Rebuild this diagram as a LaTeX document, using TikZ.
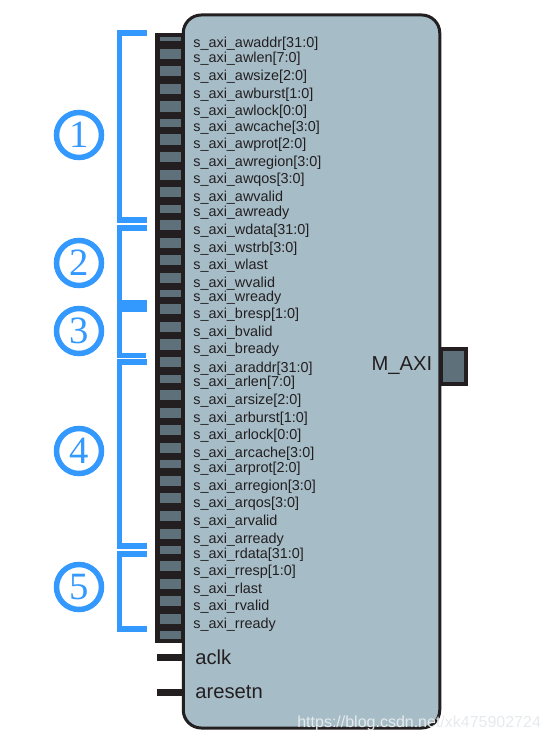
\documentclass[tikz,border=0pt]{standalone}
\usepackage{fontspec}
\setmainfont{Liberation Serif}
\setsansfont{Liberation Sans}
\usepackage{xcolor}
\usetikzlibrary{positioning}
\definecolor{axiBlue}{HTML}{3399FF}
\definecolor{ink}{HTML}{231F20}
\definecolor{bodyFill}{HTML}{A6BDC8}
\definecolor{pinFill}{HTML}{5E717B}
\definecolor{markGray}{HTML}{E6EAEC}

\begin{document}
\begin{tikzpicture}[x=0.02cm,y=-0.02cm,font=\sffamily,
  block/.style={draw=ink,fill=bodyFill,line width=3*0.02cm,rounded corners=0.36cm,
    inner sep=0pt,minimum width=256.5*0.02cm,minimum height=713*0.02cm},
  pin/.style={fill=pinFill,inner sep=0pt,outer sep=0pt,minimum width=21*0.02cm},
  sig/.style={anchor=west,inner sep=0pt,text=ink,font=\sffamily\fontsize{8.2}{10}\selectfont,
    text height=7pt,text depth=1pt},
  port/.style={anchor=west,inner sep=0pt,text=ink,font=\sffamily\fontsize{11.5}{13}\selectfont},
  bracket/.style={draw=axiBlue,line width=5.6*0.02cm},
  num/.style={circle,draw=axiBlue,line width=5.5*0.02cm,minimum size=45*0.02cm,inner sep=0pt,
    text=axiBlue,font=\rmfamily\fontsize{22}{24}\selectfont}]
\useasboundingbox (0,0) rectangle (549,742);
% --- block and pin strip ---
\node[block] (body) at (311.5,371.5) {};
\fill[ink] (155,33) rectangle (185,643);
\foreach \y/\h [count=\i] in {39/4.5,54/10,71/10,89/10,106.5/11,123/8,139.5/11,157/10,175/10,192/10,209/8,225/10,243/10,260/10,278/10,293.5/7,309/10,327/10,344.5/11,362/10,379/8,395/10,413/10,430/10,448/10,464/8,481/10,498/10,516/10,534/10,550/8,566/10,584/10,601/10,619/10,635/8}
  {\node[pin,minimum height=\h*0.02cm] (P\i) at (170.5,\y) {};}
% --- signal names ---
\foreach \y/\n [count=\i] in {42/awaddr[31:0],57/awlen[7:0],75/awsize[2:0],93/awburst[1:0],110/awlock[0:0],126/awcache[3:0],143/awprot[2:0],161/awregion[3:0],178/awqos[3:0],196/awvalid,211/awready,229/wdata[31:0],247/wstrb[3:0],264/wlast,282/wvalid,296/wready,313/bresp[1:0],331/bvalid,348/bready,367/araddr[31:0],381/arlen[7:0],399/arsize[2:0],417/arburst[1:0],434/arlock[0:0],452/arcache[3:0],467/arprot[2:0],485/arregion[3:0],502/arqos[3:0],520/arvalid,538/arready,553/rdata[31:0],570/rresp[1:0],588/rlast,605/rvalid,623/rready}
  {\node[sig] (S\i) at (193,\y) {s\_axi\_\n};}
% --- clock, reset and master port ---
\coordinate (clkEnd) at (157,657.5);
\coordinate (rstEnd) at (157,692.5);
\node[port] (aclk) at (195,657.5) {aclk};
\node[port] (aresetn) at (195,692.5) {aresetn};
\draw[ink,line width=7*0.02cm] (clkEnd) -- (clkEnd -| body.west);
\draw[ink,line width=7*0.02cm] (rstEnd) -- (rstEnd -| body.west);
\node[draw=ink,fill=pinFill,line width=4*0.02cm,inner sep=0pt,minimum width=25*0.02cm,minimum height=35*0.02cm] (mport) at (453.5,366.5) {};
\node[port,anchor=east] (maxi) at (432.5,366) {M\_AXI};
% --- brackets ---
\draw[bracket] (147,33) -| (119.5,220) -- (147,220);
\draw[bracket] (147,228) -| (119.5,303) -- (147,303);
\draw[bracket] (147,309) -| (119.5,355.5) -- (146,355.5);
\draw[bracket] (147,362) -| (119.5,546) -- (147,546);
\draw[bracket] (147,554) -| (119.5,629) -- (147,629);
\foreach \y/\n in {135/1,263/2,331/3,451/4,587/5}
  {\node[num] (C\n) at (79,\y) {\n};}
% --- watermark ---
\node[anchor=west,inner sep=0pt,text=markGray,font=\sffamily\fontsize{9.1}{11}\selectfont] (mark) at (297,723) {https://blog.csdn.net/xk475902724};
\end{tikzpicture}
\end{document}
